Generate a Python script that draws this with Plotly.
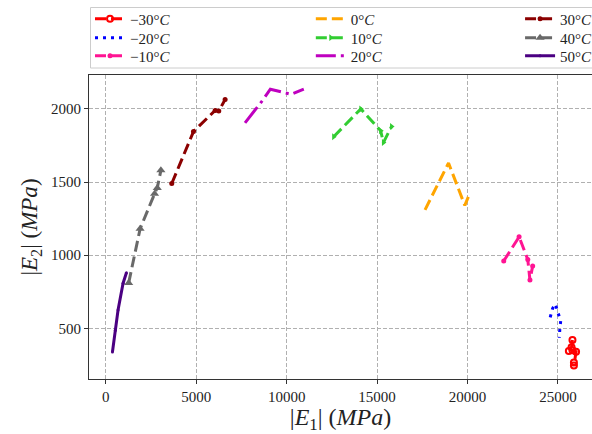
import plotly.graph_objects as go

# ---- data ----
labels = ["−30°<i>C</i>", "−20°<i>C</i>", "−10°<i>C</i>", "0°<i>C</i>", "10°<i>C</i>",
          "20°<i>C</i>", "30°<i>C</i>", "40°<i>C</i>", "50°<i>C</i>"]

e1_m30 = [25800, 25750, 25600, 25800, 26000, 25880, 25880]
e2_m30 = [420, 370, 345, 350, 340, 265, 245]
e1_m20 = [24570, 24700, 24850, 25000, 25150, 25100, 25070]
e2_m20 = [575, 635, 665, 610, 550, 490, 435]
e1_m10 = [22000, 22850, 23330, 23450, 23600]
e2_m10 = [960, 1125, 970, 830, 925]
e1_0 = [17650, 18950, 19850, 20150]
e2_0 = [1310, 1630, 1340, 1430]
e1_10 = [12600, 14100, 15200, 15350, 15800]
e2_10 = [1810, 2000, 1850, 1770, 1880]
e1_20 = [7700, 8650, 9100, 10250, 10950]
e2_20 = [1905, 2055, 2135, 2100, 2135]
e1_30 = [3650, 4850, 6050, 6250, 6600]
e2_30 = [1490, 1845, 1990, 1985, 2065]
e1_40 = [1270, 1900, 2700, 2850, 3050]
e2_40 = [810, 1180, 1420, 1460, 1580]
e1_50 = [372, 530, 682, 960, 1145]
e2_50 = [338, 485, 625, 808, 880]

x_ticks = [0, 5000, 10000, 15000, 20000, 25000]
y_ticks = [500, 1000, 1500, 2000]

# ---- styles ----
LW = 3
DASH = "11px,5px"
styles = [
    dict(x=e1_m30, y=e2_m30, color="#ff0000", dash=DASH, symbol="circle-open", msize=6, mode="lines+markers"),
    dict(x=e1_m20, y=e2_m20, color="#0000ff", dash="3px,5px", symbol=None, msize=0, mode="lines"),
    dict(x=e1_m10, y=e2_m10, color="#ff1493", dash=DASH, symbol="circle", msize=5, mode="lines+markers"),
    dict(x=e1_0, y=e2_0, color="#ffa500", dash=DASH, symbol=None, msize=0, mode="lines"),
    dict(x=e1_10, y=e2_10, color="#32cd32", dash=DASH, symbol="triangle-right", msize=6, mode="lines+markers"),
    dict(x=e1_20, y=e2_20, color="#bf00bf", dash="20px,5px,3px,5px", symbol=None, msize=0, mode="lines"),
    dict(x=e1_30, y=e2_30, color="#8b0000", dash=DASH, symbol="circle", msize=5, mode="lines+markers"),
    dict(x=e1_40, y=e2_40, color="#696969", dash=DASH, symbol="triangle-up", msize=8, mode="lines+markers"),
    dict(x=e1_50, y=e2_50, color="#4b0082", dash="solid", symbol="circle", msize=3, mode="lines+markers"),
]

FONT = "Liberation Serif"
TXT = "#222"

# legend grid: 3 columns x 3 rows (column-major order)
col_x = [0.002, 0.441, 0.857]
row_y = [1.184, 1.122, 1.0625]

fig = go.Figure()
legend_layout = {}
for i, (lab, s) in enumerate(zip(labels, styles)):
    key = "legend" if i == 0 else f"legend{i + 1}"
    marker = dict(color=s["color"], size=s["msize"])
    if s["symbol"]:
        marker["symbol"] = s["symbol"]
        if s["symbol"].endswith("open"):
            marker["line"] = dict(width=2, color=s["color"])
    fig.add_trace(go.Scatter(
        x=s["x"], y=s["y"], name=lab, mode=s["mode"], showlegend=True,
        line=dict(color=s["color"], width=LW, dash=s["dash"]),
        marker=marker, legend=key,
    ))
    legend_layout[key] = dict(
        x=col_x[i // 3], y=row_y[i % 3], xanchor="left", yanchor="middle",
        orientation="v", bgcolor="rgba(0,0,0,0)", borderwidth=0,
        font=dict(family=FONT, size=15, color=TXT), itemwidth=30,
    )

fig.update_layout(
    width=592, height=434, showlegend=True,
    margin=dict(l=89, r=0, t=75, b=55, autoexpand=False),
    paper_bgcolor="white", plot_bgcolor="white",
    font=dict(family=FONT, size=15, color=TXT),
    xaxis=dict(
        range=[-924, 26880], tickvals=x_ticks, tickformat="d", ticks="outside", ticklen=4,
        tickcolor="#333", showline=True, linecolor="#333", linewidth=1.2, mirror=True,
        showgrid=True, gridcolor="#b0b0b0", griddash="4px,2px", gridwidth=1,
        zeroline=False, automargin=False, tickfont=dict(family=FONT, size=15, color=TXT),
        title=dict(text="|<i>E</i><sub>1</sub>| (<i>MPa</i>)", font=dict(family=FONT, size=24, color=TXT), standoff=2),
    ),
    yaxis=dict(
        range=[153, 2232], tickvals=y_ticks, tickformat="d", ticks="outside", ticklen=4,
        tickcolor="#333", showline=True, linecolor="#333", linewidth=1.2, mirror=True,
        showgrid=True, gridcolor="#b0b0b0", griddash="4px,2px", gridwidth=1,
        zeroline=False, automargin=False, tickfont=dict(family=FONT, size=15, color=TXT),
        title=dict(text="|<i>E</i><sub>2</sub>| (<i>MPa</i>)", font=dict(family=FONT, size=23, color=TXT), standoff=6),
    ),
    shapes=[dict(type="rect", xref="paper", yref="paper", x0=0.003, x1=1.05, y0=1.023, y1=1.222,
                 line=dict(color="#cccccc", width=1), fillcolor="rgba(0,0,0,0)", layer="above")],
    **legend_layout,
)

fig.write_html("out.html", config={"displayModeBar": False},
               post_script="document.body.style.margin='0';")
